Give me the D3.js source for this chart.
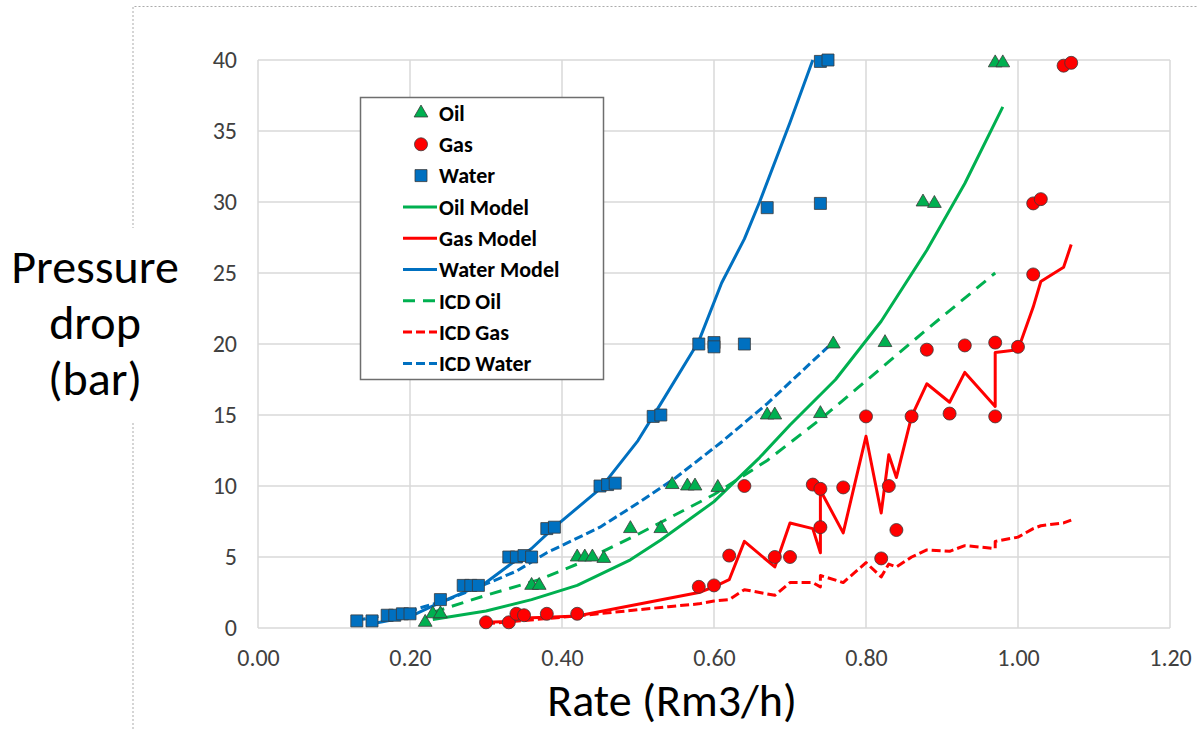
<!DOCTYPE html>
<html>
<head>
<meta charset="utf-8">
<script src="https://cdn.jsdelivr.net/npm/d3@7"></script>
<style>
  body { margin: 0; background: #fff; }
  svg { display: block; font-family: Carlito, Calibri, 'Liberation Sans', Arial, sans-serif; }
</style>
</head>
<body>
<svg id="chart" width="1197" height="729"></svg>
<script>
// measured points [rate, dp]
const oilData = [[0.22,0.4],[0.23,1.0],[0.24,1.0],[0.36,3.0],[0.37,3.0],[0.42,5.0],[0.43,5.0],[0.44,5.0],[0.455,4.9],
  [0.49,7.0],[0.53,7.0],[0.545,10.1],[0.565,10.0],[0.575,10.0],[0.605,9.9],[0.67,15.0],[0.68,15.0],[0.74,15.1],
  [0.757,20.0],[0.825,20.1],[0.875,30.0],[0.89,29.9],[0.97,39.8],[0.98,39.8]];
const gasData = [[0.30,0.4],[0.33,0.4],[0.34,1.0],[0.35,0.9],[0.38,1.0],[0.42,1.0],[0.58,2.9],[0.60,3.0],[0.62,5.1],
  [0.64,10.0],[0.68,5.0],[0.70,5.0],[0.73,10.1],[0.74,9.8],[0.74,7.1],[0.77,9.9],[0.80,14.9],[0.82,4.9],[0.83,10.0],
  [0.84,6.9],[0.86,14.9],[0.88,19.6],[0.91,15.1],[0.93,19.9],[0.97,14.9],[0.97,20.1],[1.00,19.8],[1.02,24.9],
  [1.02,29.9],[1.03,30.2],[1.06,39.6],[1.07,39.8]];
const waterData = [[0.13,0.5],[0.15,0.5],[0.17,0.9],[0.18,0.9],[0.19,1.0],[0.20,1.0],[0.24,2.0],[0.27,3.0],[0.28,3.0],
  [0.29,3.0],[0.33,5.0],[0.34,5.0],[0.35,5.1],[0.36,5.0],[0.38,7.0],[0.39,7.1],[0.45,10.0],[0.46,10.1],[0.47,10.2],
  [0.52,14.9],[0.53,15.0],[0.58,20.0],[0.60,20.1],[0.60,19.8],[0.64,20.0],[0.67,29.6],[0.74,29.9],[0.74,39.9],[0.75,40.0]];

// model curves
const oilModel = [[0.23,0.6],[0.30,1.2],[0.36,2.0],[0.42,3.0],[0.49,4.8],[0.53,6.2],[0.60,8.9],[0.66,12.0],[0.70,14.3],
  [0.76,17.5],[0.82,21.6],[0.88,26.6],[0.93,31.3],[0.98,36.7]];
const gasModel = [[0.30,0.4],[0.33,0.45],[0.34,0.6],[0.35,0.7],[0.38,0.75],[0.42,0.85],[0.58,2.5],[0.60,2.9],[0.62,3.4],
  [0.64,6.1],[0.68,4.3],[0.70,7.4],[0.73,7.0],[0.74,5.3],[0.74,9.7],[0.77,6.7],[0.80,13.5],[0.82,8.1],[0.83,12.2],
  [0.84,10.6],[0.86,14.9],[0.88,17.2],[0.91,15.9],[0.93,18.0],[0.97,15.6],[0.97,19.4],[1.00,19.6],[1.02,22.6],
  [1.03,24.4],[1.06,25.4],[1.07,27.0]];
const waterModel = [[0.15,0.3],[0.20,0.8],[0.24,1.8],[0.27,2.5],[0.30,3.2],[0.33,4.4],[0.36,5.6],[0.39,7.1],[0.45,9.8],
  [0.50,13.2],[0.53,15.8],[0.58,20.2],[0.61,24.3],[0.64,27.4],[0.66,30.0],[0.70,35.6],[0.73,40.0]];
const icdOil = [[0.23,1.1],[0.30,2.3],[0.37,3.4],[0.42,4.5],[0.50,6.6],[0.60,9.4],[0.67,11.8],[0.74,14.7],[0.80,17.4],
  [0.875,20.8],[0.97,25.0]];
const icdGas = [[0.30,0.3],[0.42,0.85],[0.54,1.5],[0.58,1.7],[0.60,1.9],[0.62,2.0],[0.64,2.7],[0.68,2.3],[0.70,3.2],
  [0.73,3.2],[0.74,2.9],[0.74,3.7],[0.77,3.2],[0.80,4.6],[0.82,3.6],[0.83,4.5],[0.84,4.3],[0.86,5.0],[0.88,5.5],
  [0.91,5.4],[0.93,5.8],[0.97,5.6],[0.97,6.1],[1.00,6.4],[1.02,7.0],[1.03,7.2],[1.06,7.4],[1.07,7.6]];
const icdWater = [[0.13,0.55],[0.20,1.2],[0.25,2.0],[0.30,3.1],[0.34,4.0],[0.38,5.3],[0.45,7.1],[0.50,8.8],[0.55,10.6],
  [0.61,13.1],[0.67,15.8],[0.75,19.8]];

const xTicks = [0, 0.2, 0.4, 0.6, 0.8, 1.0, 1.2];
const yTicks = [0, 5, 10, 15, 20, 25, 30, 35, 40];
const legendLabels = ['Oil', 'Gas', 'Water', 'Oil Model', 'Gas Model', 'Water Model', 'ICD Oil', 'ICD Gas', 'ICD Water'];

const GREEN = '#00B050', RED = '#FF0000', BLUE = '#0070C0', GRID = '#D9D9D9';
const FONT = "Carlito, Calibri, 'Liberation Sans', Arial, sans-serif";

const svg = d3.select('#chart');
const m = { top: 60, right: 27, bottom: 101, left: 258 };
const W = 1197, H = 729;

const x = d3.scaleLinear().domain([0, 1.2]).range([m.left, W - m.right]);
const y = d3.scaleLinear().domain([0, 40]).range([H - m.bottom, m.top]);

// dotted frame of the slide object
svg.append('path')
  .attr('d', `M133,${H} L133,6.5 L${W},6.5`)
  .attr('fill', 'none')
  .attr('stroke', '#ABABAB')
  .attr('stroke-width', 1)
  .attr('stroke-dasharray', '2,2');

// grid
svg.append('g').selectAll('line').data(yTicks).join('line')
  .attr('x1', x(0)).attr('x2', x(1.2))
  .attr('y1', d => y(d)).attr('y2', d => y(d))
  .attr('stroke', GRID).attr('stroke-width', 1.5);
svg.append('g').selectAll('line').data(xTicks).join('line')
  .attr('x1', d => x(d)).attr('x2', d => x(d))
  .attr('y1', y(0)).attr('y2', y(40))
  .attr('stroke', GRID).attr('stroke-width', 1.5);

// axes
const xAxis = svg.append('g')
  .attr('transform', `translate(0,${y(0)})`)
  .call(d3.axisBottom(x).tickValues(xTicks).tickFormat(d3.format('.2f')).tickSize(0).tickPadding(21));
const yAxis = svg.append('g')
  .attr('transform', `translate(${x(0)},0)`)
  .call(d3.axisLeft(y).tickValues(yTicks).tickSize(0).tickPadding(21));
[xAxis, yAxis].forEach(a => {
  a.select('.domain').remove();
  a.selectAll('text').attr('font-size', 24).attr('fill', '#404040').attr('font-family', FONT);
});

// lines
const line = d3.line().x(d => x(d[0])).y(d => y(d[1]));
const lineSeries = [
  { data: oilModel, color: GREEN, dash: null },
  { data: gasModel, color: RED, dash: null },
  { data: waterModel, color: BLUE, dash: null },
  { data: icdOil, color: GREEN, dash: '12,8' },
  { data: icdGas, color: RED, dash: '9,4' },
  { data: icdWater, color: BLUE, dash: '9,4' }
];
lineSeries.forEach(s => {
  svg.append('path').datum(s.data)
    .attr('d', line)
    .attr('fill', 'none')
    .attr('stroke', s.color)
    .attr('stroke-width', 3)
    .attr('stroke-linejoin', 'round')
    .attr('stroke-dasharray', s.dash);
});

// markers
const markerSeries = [
  { data: oilData, color: GREEN, sym: d3.symbolTriangle, size: 82 },
  { data: gasData, color: RED, sym: d3.symbolCircle, size: 133 },
  { data: waterData, color: BLUE, sym: d3.symbolSquare, size: 144 }
];
markerSeries.forEach(s => {
  svg.append('g').selectAll('path').data(s.data).join('path')
    .attr('transform', d => `translate(${x(d[0])},${y(d[1])})`)
    .attr('d', d3.symbol(s.sym, s.size))
    .attr('fill', s.color)
    .attr('stroke', '#3A3A3A')
    .attr('stroke-width', 0.8);
});

// legend
const lg = svg.append('g');
lg.append('rect')
  .attr('x', 360.5).attr('y', 97.5).attr('width', 243).attr('height', 282)
  .attr('fill', '#fff').attr('stroke', '#6E6E6E').attr('stroke-width', 1.5);
const rowY = i => 113 + i * 31.3;
legendLabels.forEach((label, i) => {
  const cy = rowY(i);
  if (i < 3) {
    const s = markerSeries[i];
    lg.append('path')
      .attr('transform', `translate(421,${cy})`)
      .attr('d', d3.symbol(s.sym, s.size))
      .attr('fill', s.color).attr('stroke', '#3A3A3A').attr('stroke-width', 0.8);
  } else {
    const s = lineSeries[i - 3];
    lg.append('line')
      .attr('x1', 403).attr('x2', 437).attr('y1', cy).attr('y2', cy)
      .attr('stroke', s.color).attr('stroke-width', 3)
      .attr('stroke-dasharray', s.dash);
  }
  lg.append('text')
    .attr('x', 439).attr('y', cy).attr('dy', '0.35em')
    .attr('font-size', 22).attr('font-weight', 'bold').attr('fill', '#000')
    .text(label);
});

// axis titles
svg.append('rect').attr('x', 6).attr('y', 228).attr('width', 180).attr('height', 193).attr('fill', '#fff');
const yt = svg.append('text').attr('text-anchor', 'middle').attr('font-size', 48).attr('fill', '#000');
['Pressure', 'drop', '(bar)'].forEach((t, i) => {
  yt.append('tspan').attr('x', 95).attr('y', 283 + i * 56).text(t);
});
svg.append('text')
  .attr('x', 672).attr('y', 716)
  .attr('text-anchor', 'middle')
  .attr('font-size', 46).attr('fill', '#000')
  .text('Rate (Rm3/h)');
</script>
</body>
</html>
